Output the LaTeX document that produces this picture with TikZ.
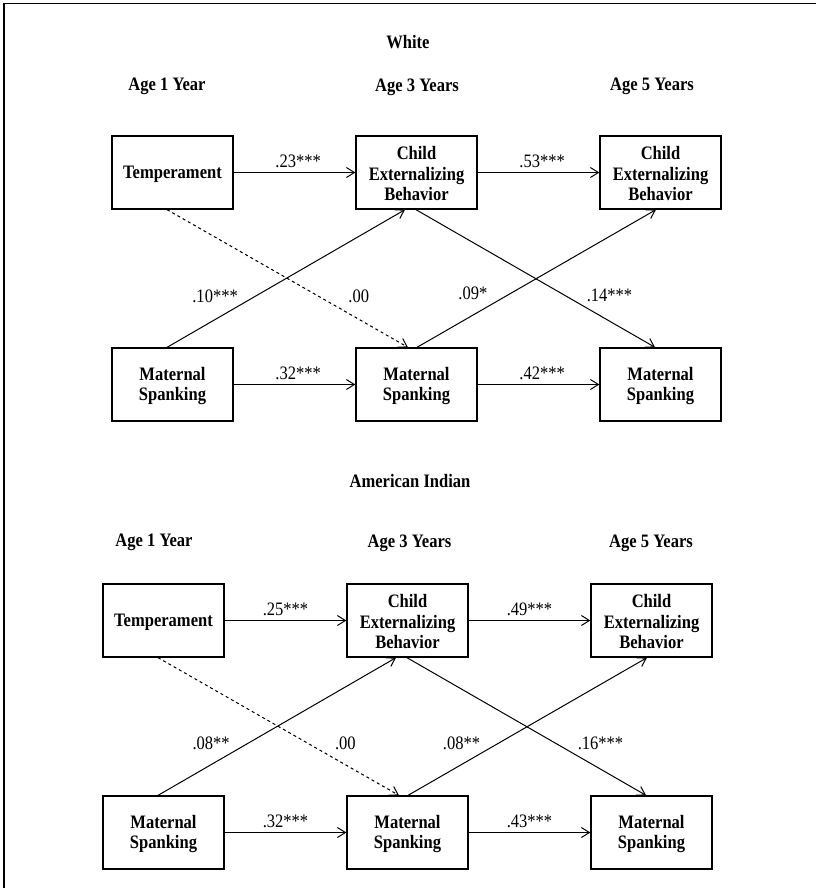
\documentclass[tikz,border=0pt]{standalone}
\usepackage{fontspec}
\setmainfont{Liberation Serif}[FakeStretch=0.87]
\usetikzlibrary{arrows.meta}

\newcommand\boxstrut{\rule[-3pt]{0pt}{15pt}}

\tikzset{every picture/.style={line width=0.75pt}}
\tikzset{
  varbox/.style={draw, line width=1pt, minimum width=90.75pt, minimum height=54.75pt, inner sep=0pt, align=center, font=\fontsize{14.25}{15.4}\selectfont\bfseries},
  headtxt/.style={inner sep=0.75pt, font=\fontsize{14.25}{15.4}\selectfont\bfseries},
  coef/.style={font=\fontsize{14.25}{15.4}\selectfont},
  path/.style={-{Straight Barb[length=6pt,width=7.5pt]}},
  zeropath/.style={path, dash pattern=on 2.25pt off 2.25pt}
}

\begin{document}
\begin{tikzpicture}[x=0.75pt,y=0.75pt,yscale=-1,xscale=1]
\useasboundingbox (0,0) rectangle (816,888);

%Frame lines
\draw [line width=1.1pt] (4,888) -- (4,3.5) -- (816,3.5) ;

%%%%%%%%%%%%%%%% White
% Text Node
\draw (408,42) node [headtxt] (wTitle) {White};
% Text Node
\draw (167,86) node [headtxt] (wAge1) {Age 1 Year};
% Text Node
\draw (417,87) node [headtxt] (wAge3) {Age 3 Years};
% Text Node
\draw (652,86) node [headtxt] (wAge5) {Age 5 Years};

%Shape: Rectangle
\draw (172.5,172.5) node [varbox] (wTemp) {\boxstrut Temperament};
%Shape: Rectangle
\draw (416.5,172.5) node [varbox] (wCEB3) {\boxstrut Child\\Externalizing\\Behavior};
%Shape: Rectangle
\draw (660.5,172.5) node [varbox] (wCEB5) {\boxstrut Child\\Externalizing\\Behavior};
%Shape: Rectangle
\draw (172.5,384.5) node [varbox] (wMS1) {\boxstrut Maternal\\Spanking};
%Shape: Rectangle
\draw (416.5,384.5) node [varbox] (wMS3) {\boxstrut Maternal\\Spanking};
%Shape: Rectangle
\draw (660.5,384.5) node [varbox] (wMS5) {\boxstrut Maternal\\Spanking};

%Straight Lines
\draw [path] (wTemp) -- (wCEB3) node [coef, pos=0.53, above] {.23***};
\draw [path] (wCEB3) -- (wCEB5) node [coef, pos=0.53, above] {.53***};
\draw [path] (wMS1) -- (wMS3) node [coef, pos=0.53, above] {.32***};
\draw [path] (wMS3) -- (wMS5) node [coef, pos=0.53, above] {.42***};
\draw [path] ([xshift=-4.1pt]wMS1.north) -- ([xshift=-8.6pt]wCEB3.south) node [coef, pos=0.37, xshift=-30pt] {.10***};
\draw [zeropath] ([xshift=-4.1pt]wTemp.south) -- ([xshift=-6.4pt]wMS3.north) node [coef, pos=0.63, xshift=30pt] {.00};
\draw [path] ([xshift=0.4pt]wMS3.north) -- ([xshift=-3.4pt]wCEB5.south) node [coef, pos=0.39, xshift=-28pt] {.09*};
\draw [path] ([xshift=-0.4pt]wCEB3.south) -- ([xshift=-4.1pt]wMS5.north) node [coef, pos=0.62, xshift=34pt] {.14***};

%%%%%%%%%%%%%%%% American Indian
% Text Node
\draw (410,481) node [headtxt] (aTitle) {American Indian};
% Text Node
\draw (154,542) node [headtxt] (aAge1) {Age 1 Year};
% Text Node
\draw (409.5,543) node [headtxt] (aAge3) {Age 3 Years};
% Text Node
\draw (651,543) node [headtxt] (aAge5) {Age 5 Years};

%Shape: Rectangle
\draw (163.5,620.5) node [varbox] (aTemp) {\boxstrut Temperament};
%Shape: Rectangle
\draw (407.5,620.5) node [varbox] (aCEB3) {\boxstrut Child\\Externalizing\\Behavior};
%Shape: Rectangle
\draw (651.5,620.5) node [varbox] (aCEB5) {\boxstrut Child\\Externalizing\\Behavior};
%Shape: Rectangle
\draw (163.5,832.5) node [varbox] (aMS1) {\boxstrut Maternal\\Spanking};
%Shape: Rectangle
\draw (407.5,832.5) node [varbox] (aMS3) {\boxstrut Maternal\\Spanking};
%Shape: Rectangle
\draw (651.5,832.5) node [varbox] (aMS5) {\boxstrut Maternal\\Spanking};

%Straight Lines
\draw [path] (aTemp) -- (aCEB3) node [coef, pos=0.5, above] {.25***};
\draw [path] (aCEB3) -- (aCEB5) node [coef, pos=0.5, above] {.49***};
\draw [path] (aMS1) -- (aMS3) node [coef, pos=0.5, above] {.32***};
\draw [path] (aMS3) -- (aMS5) node [coef, pos=0.5, above] {.43***};
\draw [path] ([xshift=-4.1pt]aMS1.north) -- ([xshift=-8.6pt]aCEB3.south) node [coef, pos=0.38, xshift=-28pt] {.08**};
\draw [zeropath] ([xshift=-4.1pt]aTemp.south) -- ([xshift=-6.4pt]aMS3.north) node [coef, pos=0.62, xshift=28.5pt] {.00};
\draw [path] ([xshift=0.4pt]aMS3.north) -- ([xshift=-3.4pt]aCEB5.south) node [coef, pos=0.38, xshift=-28pt] {.08**};
\draw [path] ([xshift=-0.4pt]aCEB3.south) -- ([xshift=-4.1pt]aMS5.north) node [coef, pos=0.62, xshift=34pt] {.16***};

\end{tikzpicture}
\end{document}
